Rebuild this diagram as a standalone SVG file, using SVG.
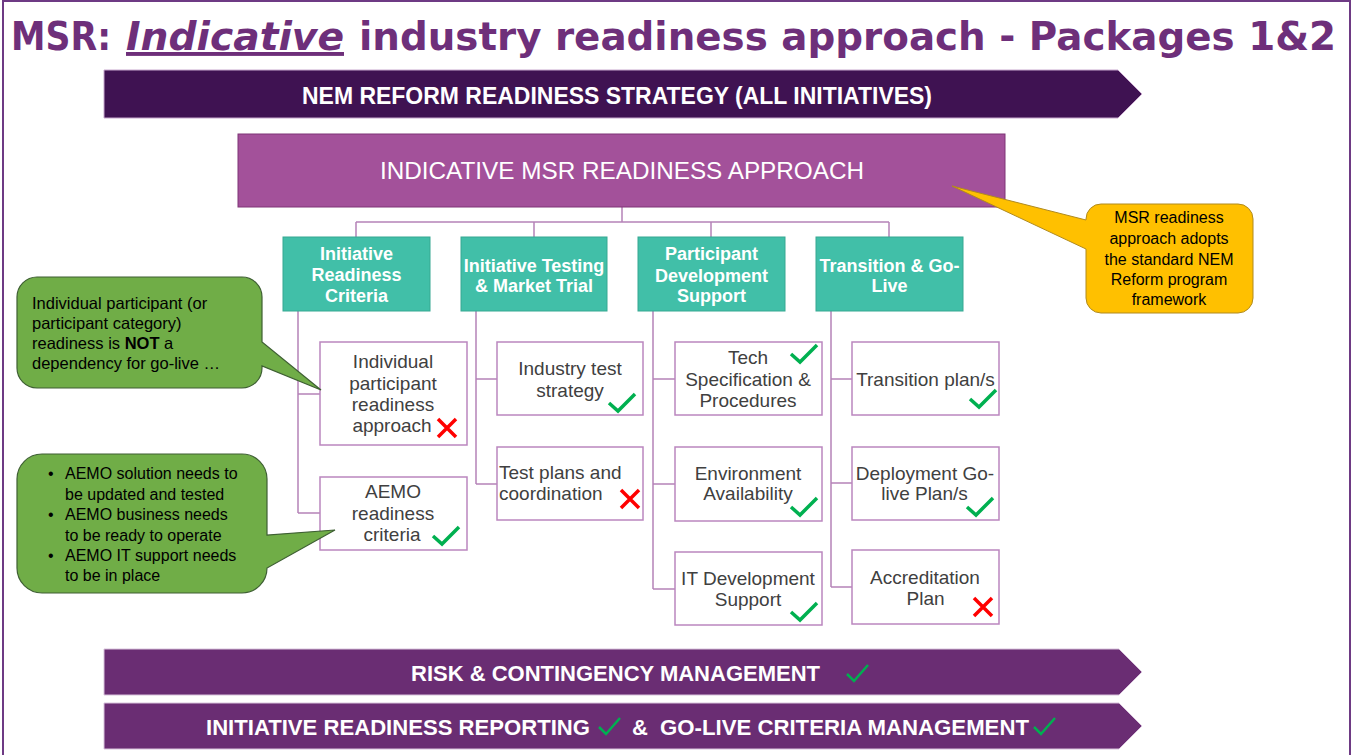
<svg xmlns="http://www.w3.org/2000/svg" width="1351" height="755" viewBox="0 0 1351 755">
<style>
.title{font-family:"DejaVu Sans",sans-serif;font-weight:bold;font-size:39px;fill:#6E2F7A}
.ban{font-family:"Liberation Sans",Arial,sans-serif;font-weight:bold;fill:#FFFFFF}
.main{font-family:"Liberation Sans",Arial,sans-serif;font-size:24px;fill:#FFFFFF;text-anchor:middle}
.teal{fill:#41BFA8;stroke:#37A892;stroke-width:1}
.th{font-family:"Liberation Sans",Arial,sans-serif;font-weight:bold;font-size:18px;fill:#FFFFFF;text-anchor:middle}
.sub{fill:#FFFFFF;stroke:#BB86BF;stroke-width:1.5}
.st{font-family:"Liberation Sans",Arial,sans-serif;font-size:19px;fill:#404040;text-anchor:middle}
.stl{font-family:"Liberation Sans",Arial,sans-serif;font-size:19px;fill:#404040}
.conn{fill:none;stroke:#B582B8;stroke-width:1.5}
.ct{font-family:"Liberation Sans",Arial,sans-serif;font-size:16.5px;fill:#000000}
.ctb{font-family:"Liberation Sans",Arial,sans-serif;font-size:16px;fill:#000000}
.yt{font-family:"Liberation Sans",Arial,sans-serif;font-size:16px;fill:#000000;text-anchor:middle}
</style>
<defs>
<path id="chk" d="M0,9 L9,17 L26,0" fill="none" stroke="#00B050" stroke-width="3.5"/>
<path id="xm" d="M1,1 L19,19 M19,1 L1,19" fill="none" stroke="#FF0000" stroke-width="3.5"/>
<path id="bchk" d="M0,9 L7,16 L21,0" fill="none" stroke="#00B050" stroke-width="2.5"/>
</defs>
<rect x="0" y="0" width="1351" height="755" fill="#FFFFFF"/>
<rect x="3" y="1" width="1347" height="770" fill="none" stroke="#6E3A84" stroke-width="2"/>

<g id="title">
<text class="title" x="11" y="50" textLength="100" lengthAdjust="spacingAndGlyphs">MSR:</text>
<text class="title" x="126" y="50" font-style="italic" text-decoration="underline" textLength="218" lengthAdjust="spacingAndGlyphs">Indicative</text>
<text class="title" x="359" y="50" textLength="977" lengthAdjust="spacingAndGlyphs">industry readiness approach - Packages 1&amp;2</text>
</g>

<g id="strategy-banner">
<path d="M104,70 H1118 L1142,94 L1118,118 H104 Z" fill="#3F1252" stroke="#C8A8CE" stroke-width="1"/>
<text class="ban" x="302" y="104" font-size="24" textLength="630" lengthAdjust="spacingAndGlyphs">NEM REFORM READINESS STRATEGY (ALL INITIATIVES)</text>
</g>

<g id="connectors">
<path class="conn" d="M622,207 V222 M356,222 H889 M356,222 V237 M534,222 V237 M711,222 V237 M889,222 V237"/>
<path class="conn" d="M298,311 V513 M298,394 H320 M298,513 H320"/>
<path class="conn" d="M476,311 V484 M476,379 H497 M476,484 H497"/>
<path class="conn" d="M653,311 V589 M653,379 H675 M653,484 H675 M653,589 H675"/>
<path class="conn" d="M831,311 V587 M831,379 H852 M831,483 H852 M831,587 H852"/>
</g>

<g id="main-approach">
<rect x="238" y="134" width="767" height="73" fill="#A3519A" stroke="#7E3476" stroke-width="1"/>
<text class="main" x="622" y="179" textLength="484" lengthAdjust="spacingAndGlyphs">INDICATIVE MSR READINESS APPROACH</text>
</g>

<g id="h-criteria">
<rect class="teal" x="283" y="237" width="147" height="74"/>
<text class="th" x="356.5" y="259.5">Initiative</text>
<text class="th" x="356.5" y="281">Readiness</text>
<text class="th" x="356.5" y="302">Criteria</text>
</g>
<g id="h-testing">
<rect class="teal" x="461" y="237" width="146" height="74"/>
<text class="th" x="534" y="271.5">Initiative Testing</text>
<text class="th" x="534" y="292">&amp; Market Trial</text>
</g>
<g id="h-participant">
<rect class="teal" x="638" y="237" width="147" height="74"/>
<text class="th" x="711.5" y="260">Participant</text>
<text class="th" x="711.5" y="281.5">Development</text>
<text class="th" x="711.5" y="302">Support</text>
</g>
<g id="h-transition">
<rect class="teal" x="816" y="237" width="147" height="74"/>
<text class="th" x="889.5" y="271.5">Transition &amp; Go-</text>
<text class="th" x="889.5" y="292">Live</text>
</g>

<g id="n-individual">
<rect class="sub" x="320" y="342" width="147" height="103"/>
<text class="st" x="393" y="368">Individual</text>
<text class="st" x="393" y="390">participant</text>
<text class="st" x="393" y="411">readiness</text>
<text class="st" x="392" y="432">approach</text>
<use href="#xm" x="437" y="418"/>
</g>
<g id="n-aemo">
<rect class="sub" x="320" y="477" width="147" height="73"/>
<text class="st" x="393" y="498">AEMO</text>
<text class="st" x="393" y="520">readiness</text>
<text class="st" x="392" y="541">criteria</text>
<use href="#chk" x="433" y="527"/>
</g>

<g id="n-industry">
<rect class="sub" x="497" y="342" width="146" height="73"/>
<text class="st" x="570" y="375">Industry test</text>
<text class="st" x="570" y="397">strategy</text>
<use href="#chk" x="609" y="394"/>
</g>
<g id="n-testplans">
<rect class="sub" x="497" y="447" width="146" height="73"/>
<text class="stl" x="499" y="478.5">Test plans and</text>
<text class="stl" x="499" y="500">coordination</text>
<use href="#xm" x="620" y="489"/>
</g>

<g id="n-techspec">
<rect class="sub" x="675" y="342" width="147" height="73"/>
<text class="st" x="748" y="364">Tech</text>
<text class="st" x="748" y="386">Specification &amp;</text>
<text class="st" x="748" y="407">Procedures</text>
<use href="#chk" x="791" y="345"/>
</g>
<g id="n-environment">
<rect class="sub" x="675" y="447" width="147" height="74"/>
<text class="st" x="748" y="479.5">Environment</text>
<text class="st" x="748" y="500">Availability</text>
<use href="#chk" x="791" y="498"/>
</g>
<g id="n-itdev">
<rect class="sub" x="675" y="552" width="147" height="73"/>
<text class="st" x="748" y="585">IT Development</text>
<text class="st" x="748" y="606">Support</text>
<use href="#chk" x="791" y="603"/>
</g>

<g id="n-transition">
<rect class="sub" x="852" y="342" width="147" height="73"/>
<text class="st" x="925.5" y="386">Transition plan/s</text>
<use href="#chk" x="970" y="390"/>
</g>
<g id="n-deployment">
<rect class="sub" x="852" y="447" width="147" height="73"/>
<text class="st" x="925" y="479.5">Deployment Go-</text>
<text class="st" x="924.5" y="500">live Plan/s</text>
<use href="#chk" x="967" y="498"/>
</g>
<g id="n-accreditation">
<rect class="sub" x="852" y="550" width="147" height="74"/>
<text class="st" x="925" y="583.5">Accreditation</text>
<text class="st" x="925.5" y="605">Plan</text>
<use href="#xm" x="973" y="597"/>
</g>

<g id="callout-framework">
<path d="M1101,204 H1238 A15,15 0 0 1 1253,219 V298 A15,15 0 0 1 1238,313 H1101 A15,15 0 0 1 1086,298 V249 L952,186 L1086,220 V219 A15,15 0 0 1 1101,204 Z" fill="#FFC000" stroke="#B08A1E" stroke-width="1"/>
<text class="yt" x="1169" y="223">MSR readiness</text>
<text class="yt" x="1169" y="244">approach adopts</text>
<text class="yt" x="1169" y="265">the standard NEM</text>
<text class="yt" x="1169" y="285">Reform program</text>
<text class="yt" x="1169" y="305">framework</text>
</g>

<g id="callout-individual">
<path d="M37,277 H242 A20,20 0 0 1 262,297 V342 L321,390 L262,366 V368 A20,20 0 0 1 242,388 H37 A20,20 0 0 1 17,368 V297 A20,20 0 0 1 37,277 Z" fill="#70AD47" stroke="#3E5F33" stroke-width="1.2"/>
<text class="ct" x="32" y="309">Individual participant (or</text>
<text class="ct" x="32" y="329">participant category)</text>
<text class="ct" x="32" y="349">readiness is <tspan font-weight="bold">NOT</tspan> a</text>
<text class="ct" x="32" y="369">dependency for go-live …</text>
</g>

<g id="callout-aemo">
<path d="M42,454 H242 A25,25 0 0 1 267,479 V535 L335,530 L267,568 A25,25 0 0 1 242,593 H42 A25,25 0 0 1 17,568 V479 A25,25 0 0 1 42,454 Z" fill="#70AD47" stroke="#3E5F33" stroke-width="1.2"/>
<text class="ctb" x="48" y="479">•</text>
<text class="ctb" x="65" y="479">AEMO solution needs to</text>
<text class="ctb" x="65" y="500">be updated and tested</text>
<text class="ctb" x="48" y="520">•</text>
<text class="ctb" x="65" y="520">AEMO business needs</text>
<text class="ctb" x="65" y="541">to be ready to operate</text>
<text class="ctb" x="48" y="561">•</text>
<text class="ctb" x="65" y="561">AEMO IT support needs</text>
<text class="ctb" x="65" y="581">to be in place</text>
</g>

<g id="risk-banner">
<path d="M104,649 H1119 L1142,672 L1119,695 H104 Z" fill="#6A2D73" stroke="#D8C3DC" stroke-width="1"/>
<text class="ban" x="411" y="680.5" font-size="22" textLength="409" lengthAdjust="spacingAndGlyphs">RISK &amp; CONTINGENCY MANAGEMENT</text>
<use href="#bchk" x="847" y="665"/>
</g>

<g id="reporting-banner">
<path d="M104,703 H1119 L1142,726 L1119,749 H104 Z" fill="#6A2D73" stroke="#D8C3DC" stroke-width="1"/>
<text class="ban" x="206" y="735" font-size="22" textLength="384" lengthAdjust="spacingAndGlyphs">INITIATIVE READINESS REPORTING</text>
<use href="#bchk" x="599" y="718"/>
<text class="ban" x="632" y="735" font-size="22">&amp;</text>
<text class="ban" x="660" y="735" font-size="22" textLength="369" lengthAdjust="spacingAndGlyphs">GO-LIVE CRITERIA MANAGEMENT</text>
<use href="#bchk" x="1034" y="718"/>
</g>
</svg>
